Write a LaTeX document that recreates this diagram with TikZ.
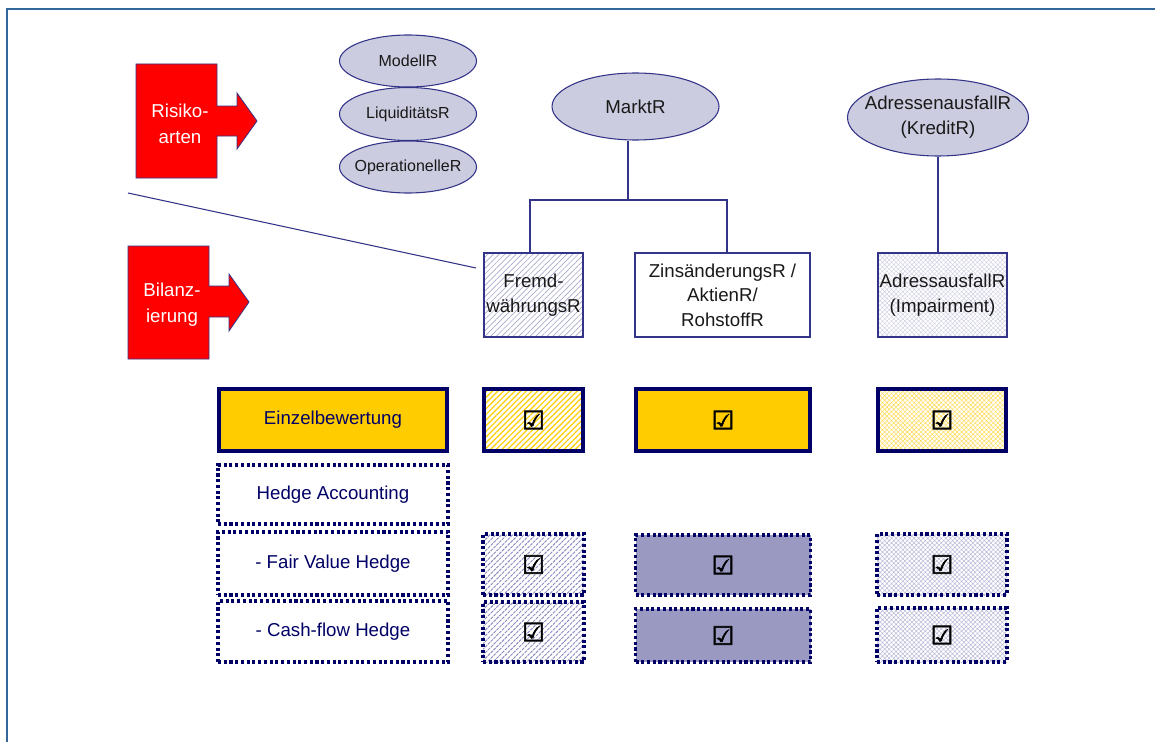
\documentclass[tikz,border=0pt]{standalone}
\usepackage{fontspec}
\setmainfont{Liberation Sans}
\newfontfamily\chkfont[FakeBold=2.5]{DejaVu Sans}
\usetikzlibrary{shapes.geometric,patterns.meta,calc}
\definecolor{framec}{HTML}{336699}
\definecolor{navy}{HTML}{000066}
\definecolor{edgeb}{HTML}{333388}
\definecolor{lav}{HTML}{CCCCE0}
\definecolor{midfill}{HTML}{9999C2}
\definecolor{gold}{HTML}{FFCC00}
\definecolor{hatchb}{HTML}{A8A8CC}
\definecolor{hatchd}{HTML}{8C8CC0}
\definecolor{crossl}{HTML}{D0D0E4}
\definecolor{crossm}{HTML}{B8B8D8}
\definecolor{crossy}{HTML}{FFDD66}
\definecolor{redc}{HTML}{FF0000}
\def\upx{0.75pt}
\tikzset{
  txt/.style={font=\fontsize{14}{18.5}\selectfont, text=black!90},
  small/.style={font=\fontsize{12}{14}\selectfont, text=black!90},
  ell/.style={ellipse, draw=edgeb, fill=lav, line width=0.8pt, inner sep=0pt},
  thinbox/.style={rectangle, draw=edgeb, line width=0.8pt, inner sep=0pt, align=center, txt},
  thickbox/.style={rectangle, draw=navy, line width=2.8pt, inner sep=0pt, align=center},
  dotbox/.style={rectangle, draw=navy, line width=2.3pt, dash pattern=on 2.3pt off 2pt, inner sep=0pt, align=center},
  navytxt/.style={font=\fontsize{14}{18}\selectfont, text=navy},
  chk/.style={font=\chkfont\fontsize{19}{19}\selectfont, text=black},
  hatchBlue/.style={pattern={Lines[angle=45,distance=3pt,line width=0.5pt]}, pattern color=hatchb},
  hatchDark/.style={pattern={Lines[angle=45,distance=3pt,line width=0.7pt]}, pattern color=hatchd},
  hatchGold/.style={pattern={Lines[angle=45,distance=3pt,line width=0.9pt]}, pattern color=gold},
  crossLight/.style={pattern={Hatch[angle=45,distance=2.4pt,line width=0.35pt]}, pattern color=crossl},
  crossMid/.style={pattern={Hatch[angle=45,distance=2.4pt,line width=0.4pt]}, pattern color=crossm},
  crossGold/.style={pattern={Hatch[angle=45,distance=2.4pt,line width=0.45pt]}, pattern color=crossy},
  conn/.style={draw=edgeb, line width=0.8pt},
  redarrow/.style={fill=redc, draw=edgeb, line width=0.6pt},
}
\begin{document}
\begin{tikzpicture}[x=0.75pt,y=-0.75pt]
\useasboundingbox (0,0) rectangle (1155,742);
% frame
\draw[framec, line width=2pt] (7,742) -- (7,9) -- (1155,9);

% red arrows
\draw[redarrow] (136,64) -- (217,64) -- (217,106) -- (237,106) -- (237,93) -- (257,121) -- (237,149) -- (237,136) -- (217,136) -- (217,178) -- (136,178) -- cycle;
\node[align=center, text=white, font=\fontsize{14}{19.5}\selectfont] (risiko) at (180,124) {Risiko-\\arten};
\draw[redarrow] (128,246) -- (209,246) -- (209,286) -- (229,286) -- (229,274) -- (249,302) -- (229,331) -- (229,317) -- (209,317) -- (209,359) -- (128,359) -- cycle;
\node[align=center, text=white, font=\fontsize{14}{19.5}\selectfont] (bilanz) at (172,305) {Bilanz-\\ierung};

% small ellipses
\node[ell, minimum width=137*\upx, minimum height=52*\upx, label={[small]center:ModellR}] (modell) at (408,61) {};
\node[ell, minimum width=137*\upx, minimum height=53*\upx, label={[small]center:LiquiditätsR}] (liqui) at (408,114) {};
\node[ell, minimum width=137*\upx, minimum height=52*\upx, label={[small]center:OperationelleR}] (opr) at (408,167) {};

% big ellipses
\node[ell, minimum width=167*\upx, minimum height=67*\upx, label={[txt]center:MarktR}] (markt) at (635.5,106.5) {};
\node[ell, minimum width=181*\upx, minimum height=77*\upx, label={[txt, align=center]center:AdressenausfallR\\(KreditR)}] (adr) at (938,117.5) {};

% row 2 boxes
\node[thinbox, hatchBlue, minimum width=99*\upx, minimum height=84*\upx] (fremd) at (533.5,295) {Fremd-\\währungsR};
\node[thinbox, fill=white, minimum width=175*\upx, minimum height=84*\upx] (zins) at (722.5,295) {ZinsänderungsR /\\AktienR/\\RohstoffR};
\node[thinbox, crossLight, minimum width=129*\upx, minimum height=84*\upx] (adrbox) at (942.5,295) {AdressausfallR\\(Impairment)};

% connectors
\coordinate (mj) at (628,200);
\draw[conn] (mj |- markt.south) -- (mj);
\draw[conn] ($(fremd.north)+(-3.5,0)$) |- (mj) -| ($(zins.north)+(4.5,0)$);
\draw[conn] (adr.south) -- (adr.south |- adrbox.north);
\coordinate (d1) at (128,193);
\coordinate (d2) at (476,268);
\draw[conn] (d1) -- (d2);

% row 3
\node[thickbox, fill=gold, navytxt, minimum width=228*\upx, minimum height=62*\upx] (einzel) at (333,420) {Einzelbewertung};
\node[thickbox, hatchGold, chk, minimum width=99*\upx, minimum height=62*\upx] (e1) at (533.5,420) {☑};
\node[thickbox, fill=gold, chk, minimum width=174*\upx, minimum height=62*\upx] (e2) at (723,420) {☑};
\node[thickbox, crossGold, chk, minimum width=128*\upx, minimum height=62*\upx] (e3) at (942,420) {☑};

% hedge rows
\node[dotbox, navytxt, minimum width=230*\upx, minimum height=59*\upx] (hedge) at (333,494.5) {Hedge Accounting};
\node[dotbox, navytxt, minimum width=230*\upx, minimum height=63*\upx] (fvh) at (333,563.5) {- Fair Value Hedge};
\node[dotbox, navytxt, minimum width=230*\upx, minimum height=61*\upx] (cfh) at (333,631.5) {- Cash-flow Hedge};

\node[dotbox, hatchDark, chk, minimum width=101*\upx, minimum height=61*\upx] (f1) at (533.5,564.5) {☑};
\node[dotbox, fill=midfill, chk, minimum width=175*\upx, minimum height=60*\upx] (f2) at (723,565) {☑};
\node[dotbox, crossMid, chk, minimum width=130*\upx, minimum height=61*\upx] (f3) at (942,564.5) {☑};

\node[dotbox, hatchDark, chk, minimum width=101*\upx, minimum height=60*\upx] (c1) at (533.5,632) {☑};
\node[dotbox, fill=midfill, chk, minimum width=175*\upx, minimum height=53*\upx] (c2) at (723,635.5) {☑};
\node[dotbox, crossMid, chk, minimum width=130*\upx, minimum height=54*\upx] (c3) at (942,635) {☑};
\end{tikzpicture}
\end{document}
